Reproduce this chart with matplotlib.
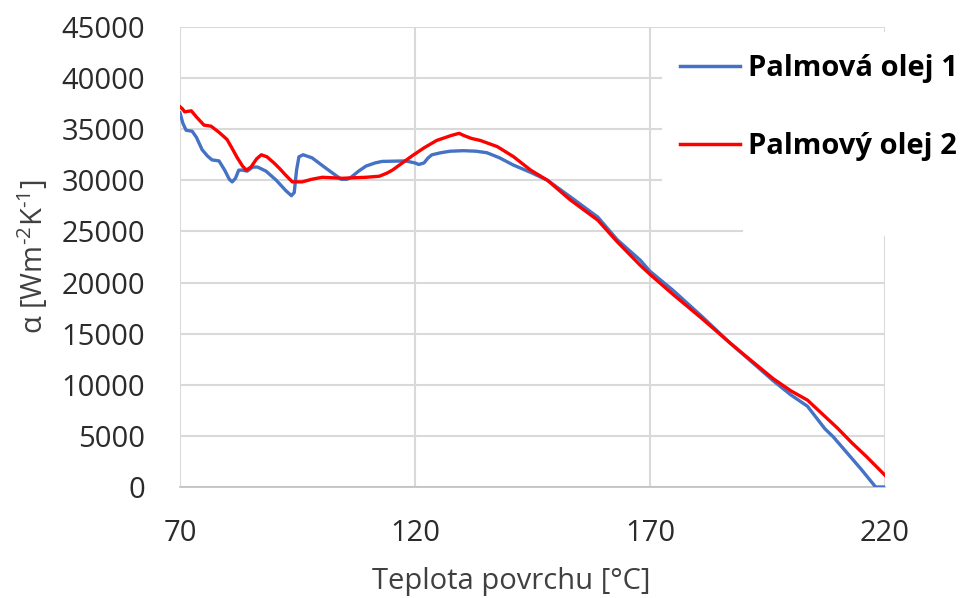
import matplotlib
matplotlib.use("Agg")
import matplotlib.pyplot as plt
from matplotlib.patches import Rectangle

# Palmová olej 1 (modrá)
temp_1 = [70, 70.6, 71.3, 72.6, 73.5, 74.7, 75.8, 76.8, 78.3, 79.5, 80.5, 81.1, 81.8, 82.5, 83.3,
          84.3, 85.5, 86.5, 88.3, 90.5, 92.5, 93.7, 94.3, 94.8, 95.3, 96.2, 98.1, 101, 104.3,
          105.5, 106.4, 108, 109.6, 111.5, 113, 118, 120, 120.8, 121.9, 122.8, 123.6, 125.5,
          127.5, 130.3, 133, 135.3, 138, 140.9, 144.5, 148.2, 153, 158.9, 163, 167.9, 170, 175,
          181, 187, 190, 196.2, 200, 203.5, 207.2, 209, 212, 215, 218, 220]
alpha_1 = [36600, 35600, 34900, 34800, 34200, 33000, 32400, 32000, 31900, 31000, 30100, 29850,
           30200, 31000, 31000, 30900, 31300, 31300, 30900, 30000, 29000, 28500, 28800, 31000,
           32300, 32500, 32200, 31200, 30100, 30100, 30300, 30900, 31400, 31700, 31850, 31900,
           31700, 31550, 31700, 32200, 32500, 32700, 32850, 32900, 32850, 32700, 32200, 31500,
           30800, 30000, 28400, 26400, 24200, 22200, 21100, 19200, 16700, 14100, 12900, 10400,
           9000, 7900, 5700, 4900, 3300, 1700, 0, 0]

# Palmový olej 2 (červená)
temp_2 = [70, 70.5, 71, 72.4, 73.5, 75.1, 76.6, 78.3, 80, 81, 82.2, 83.3, 84.1, 85.1, 86.3, 87.3,
          88.5, 90, 91.1, 92.5, 93.9, 96, 98, 100.3, 104.5, 109.6, 112.4, 114, 115.2, 117, 119.4,
          122, 124.6, 127.8, 129.4, 130.3, 132, 133.9, 137.5, 141, 144.6, 148.2, 153, 158.9, 163,
          167.9, 170, 175, 181, 187, 190, 196.2, 200, 203.5, 209.8, 213, 216, 220]
alpha_2 = [37200, 37000, 36700, 36800, 36200, 35400, 35300, 34700, 34000, 33200, 32200, 31400,
           31000, 31300, 32100, 32500, 32300, 31700, 31200, 30500, 29850, 29850, 30100, 30300,
           30200, 30300, 30400, 30700, 31000, 31600, 32400, 33200, 33900, 34400, 34600, 34400,
           34100, 33900, 33300, 32300, 31000, 30000, 28100, 26100, 24000, 21700, 20800, 18800,
           16500, 14100, 12950, 10600, 9400, 8500, 5800, 4300, 3000, 1150]

labels = ["Palmová olej 1", "Palmový olej 2"]
colors = ["#4472C4", "#FF0000"]
xticks = [70, 120, 170, 220]
yticks = list(range(0, 45001, 5000))

plt.rcParams['font.family'] = ['Open Sans', 'DejaVu Sans']
plt.rcParams['mathtext.fontset'] = 'custom'
plt.rcParams['mathtext.rm'] = 'Open Sans'
plt.rcParams['mathtext.it'] = 'Open Sans:italic'

fig = plt.figure(figsize=(9.63, 5.98), dpi=100)
ax = fig.add_axes([180 / 963, 111 / 598, 705 / 963, 460 / 598])

ax.plot(temp_1, alpha_1, color=colors[0], lw=2.4, label=labels[0], zorder=3)
ax.plot(temp_2, alpha_2, color=colors[1], lw=2.4, label=labels[1], zorder=3)

ax.set_xlim(70, 220)
ax.set_ylim(0, 45000)
ax.set_xticks(xticks)
ax.set_yticks(yticks)
ax.grid(True, color='#d9d9d9', lw=1.5)
ax.set_axisbelow(True)
for s in ['top', 'right', 'left']:
    ax.spines[s].set_visible(False)
ax.spines['bottom'].set_color('#bfbfbf')
ax.spines['bottom'].set_linewidth(1.2)
ax.tick_params(axis='both', length=0, labelsize=21, colors='#2b2b2b')
ax.tick_params(axis='x', pad=23)
ax.tick_params(axis='y', pad=25)

ax.set_xlabel("Teplota povrchu [°C]", fontsize=21, color='#404040', va='baseline')
ax.xaxis.set_label_coords((511 - 180) / 705, (487 - 589) / 460)
ax.set_ylabel(r"α [Wm$^{\text{-2}}$K$^{\text{-1}}$]", fontsize=21, color='#404040', va='center')
ax.yaxis.set_label_coords((33 - 180) / 705, 0.5)

# bílé pozadí legendy
for x0, y0, x1, y1 in [(662, 32, 963, 226), (743, 226, 963, 236)]:
    ax.add_patch(Rectangle((x0 / 963, 1 - y1 / 598), (x1 - x0) / 963, (y1 - y0) / 598,
                           transform=fig.transFigure, facecolor='white', edgecolor='none',
                           zorder=2.5, clip_on=False))

leg = ax.legend(loc='upper left', bbox_to_anchor=(680 / 963, 1 - 54 / 598),
                bbox_transform=fig.transFigure, frameon=False, borderpad=0, borderaxespad=0,
                handlelength=2.05, handletextpad=0.28, labelspacing=1.68,
                prop={'weight': 'bold', 'size': 21})
for line in leg.get_lines():
    line.set_linewidth(2.5)

fig.savefig("out.png", dpi=100)
